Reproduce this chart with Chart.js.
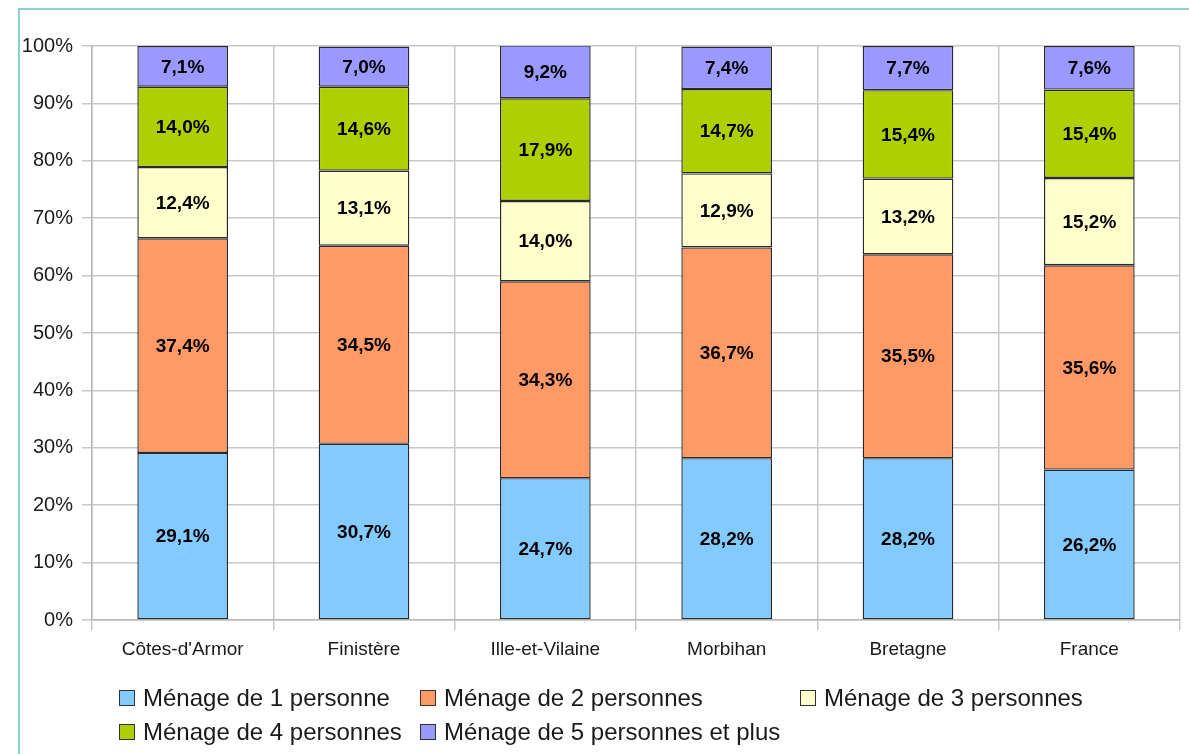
<!DOCTYPE html>
<html>
<head>
<meta charset="utf-8">
<script src="https://cdn.jsdelivr.net/npm/chart.js@4"></script>
<style>
  body { margin: 0; background: #fff; font-family: "Liberation Sans", Arial, sans-serif; }
  #wrap { position: relative; width: 1189px; height: 754px; overflow: hidden; }
  #frame { position: absolute; left: 18px; top: 8px; width: 1171px; height: 746px;
           border-top: 2px solid #86d0d6; border-left: 2px solid #86d0d6; box-sizing: border-box; }
  canvas { position: absolute; left: 0; top: 0; }
  .leg { position: absolute; font-size: 24px; color: #1a1a1a; white-space: nowrap; line-height: 24px; }
  .leg span.box { position: absolute; left: 0; top: 4px; width: 14px; height: 14px; border: 1px solid #333; }
  .leg span.txt { position: absolute; left: 24px; top: 0; }
</style>
</head>
<body>
<div id="wrap">
  <div id="frame"></div>
  <canvas id="chart" width="1189" height="754"></canvas>
  <div id="legend"></div>
</div>
<script>
// Données : structure des ménages selon le nombre de personnes (%)
const categories = ["Côtes-d'Armor", "Finistère", "Ille-et-Vilaine", "Morbihan", "Bretagne", "France"];
const seriesNames = ["Ménage de 1 personne", "Ménage de 2 personnes", "Ménage de 3 personnes",
                     "Ménage de 4 personnes", "Ménage de 5 personnes et plus"];
const menage1 = [29.1, 30.7, 24.7, 28.2, 28.2, 26.2];
const menage2 = [37.4, 34.5, 34.3, 36.7, 35.5, 35.6];
const menage3 = [12.4, 13.1, 14.0, 12.9, 13.2, 15.2];
const menage4 = [14.0, 14.6, 17.9, 14.7, 15.4, 15.4];
const menage5 = [7.1, 7.0, 9.2, 7.4, 7.7, 7.6];
const colors = ["#83caff", "#ff9966", "#ffffcc", "#aecf00", "#9999ff"];

const allSeries = [menage1, menage2, menage3, menage4, menage5];

// libellés au centre de chaque segment
const segmentLabels = {
  id: "segmentLabels",
  afterDatasetsDraw(chart) {
    const ctx = chart.ctx;
    ctx.save();
    ctx.font = "bold 19px 'Liberation Sans', Arial, sans-serif";
    ctx.fillStyle = "#000";
    ctx.textAlign = "center";
    ctx.textBaseline = "middle";
    chart.data.datasets.forEach((ds, i) => {
      chart.getDatasetMeta(i).data.forEach((bar, j) => {
        const mid = (bar.y + bar.base) / 2;
        ctx.fillText(ds.data[j].toFixed(1).replace(".", ",") + "%", bar.x, mid + 1);
      });
    });
    ctx.restore();
  }
};

const ctx = document.getElementById("chart").getContext("2d");
const chart = new Chart(ctx, {
  type: "bar",
  data: {
    labels: categories,
    datasets: allSeries.map((vals, i) => ({
      label: seriesNames[i],
      data: vals,
      backgroundColor: colors[i],
      borderColor: "#2a2a2a",
      borderWidth: 1.4,
      borderSkipped: false,
      barPercentage: 0.5,
      categoryPercentage: 1.0,
    })),
  },
  options: {
    responsive: false,
    animation: false,
    layout: { padding: { left: 0, top: 46, right: 9, bottom: 90 } },
    plugins: { legend: { display: false }, tooltip: { enabled: false } },
    scales: {
      x: {
        stacked: true,
        grid: { offset: true, color: "#c8c8c8", lineWidth: 1.5, tickLength: 10 },
        border: { color: "#b8b8b8", width: 1.5 },
        ticks: { color: "#1a1a1a", font: { size: 19, family: "'Liberation Sans', Arial, sans-serif" }, padding: 8 },
        afterFit: s => { s.height = 44; },
      },
      y: {
        stacked: true,
        min: 0,
        max: 100,
        grid: { color: "#c8c8c8", lineWidth: 1.5, tickLength: 10 },
        border: { color: "#b8b8b8", width: 1.5 },
        ticks: {
          stepSize: 10,
          color: "#1a1a1a",
          font: { size: 20, family: "'Liberation Sans', Arial, sans-serif" },
          padding: 9,
          callback: v => v + "%",
        },
        afterFit: s => { s.width = 92; },
      },
    },
  },
  plugins: [segmentLabels],
});

// légende en grille, comme dans l'original
const legendPos = [[119, 686], [420, 686], [800, 686], [119, 720], [420, 720]];
const legend = document.getElementById("legend");
seriesNames.forEach((name, i) => {
  const d = document.createElement("div");
  d.className = "leg";
  d.style.left = legendPos[i][0] + "px";
  d.style.top = legendPos[i][1] + "px";
  d.innerHTML = `<span class="box" style="background:${colors[i]}"></span><span class="txt">${name}</span>`;
  legend.appendChild(d);
});
</script>
</body>
</html>
